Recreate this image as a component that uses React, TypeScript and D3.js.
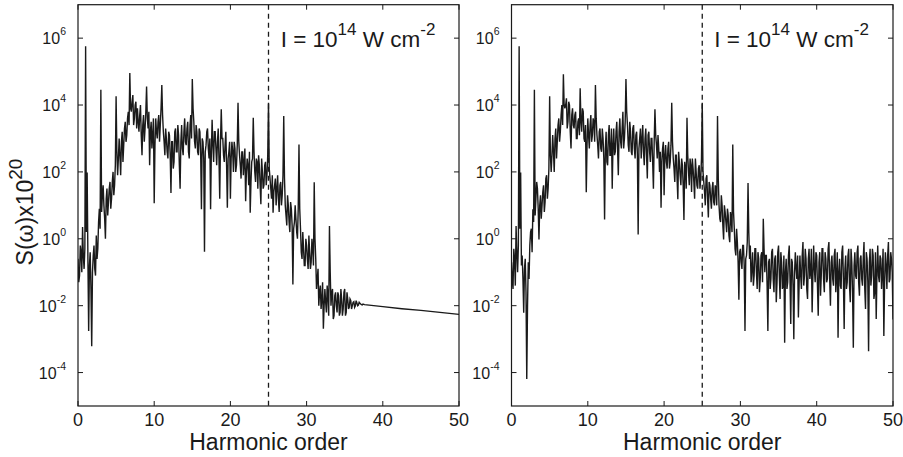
import React from 'react';
import * as d3 from 'd3';

// ---- data: log10 of S(ω)x10^20 ----
// main samples at h = 0, 0.2, 0.4, ... ; mid samples at h = 0.1, 0.3, 0.5, ...
const HARMONIC_STEP = 0.2;
const MID_OFFSET = 0.1;
const xTicks = [0, 10, 20, 30, 40, 50];
const yTickExponents = [-4, -2, 0, 2, 4, 6];
const markerHarmonic = 25;
const xLabel = 'Harmonic order';

const leftSpectrumLog = [
  -0.6, -1.1, -0.4, 0.35, -0.9,
  5.76, 1.98, -2.76, -0.4, -3.21,
  -0.5, -0.9, 0.1, -0.3, 0.9,
  4.46, 1.3, 1.0, 0.0, 1.5,
  1.1, 1.7, 1.2, 2.0, 1.6,
  4.26, 1.9, 3.0, 1.9, 3.2,
  2.8, 3.5, 3.1, 3.8, 4.96,
  3.8, 4.3, 3.6, 4.1, 3.9,
  3.2, 4.0, 2.5, 3.7, 3.3,
  4.55, 3.3, 2.2, 3.5, 3.1,
  1.06, 3.6, 3.0, 3.7, 3.4,
  4.6, 3.2, 2.5, 3.0, 2.4,
  3.1, 1.37, 2.9, 2.3, 3.3,
  2.6, 3.1, 1.5, 3.4, 2.5,
  3.6, 2.8, 3.5, 2.4, 3.7,
  4.78, 3.5, 2.7, 3.2, 2.5,
  3.2, 0.88, 2.9, -0.39, 2.8,
  3.3, 2.4, 0.88, 3.56, 2.3,
  3.2, 2.2, 3.3, 1.2, 3.87,
  3.0, 2.3, 3.2, 0.93, 2.6,
  1.2, 2.9, 2.0, 2.7, 2.2,
  4.07, 2.5, 1.8, 2.6, 2.3,
  1.12, 2.4, 1.6, 0.78, 2.3,
  3.62, 2.0, 2.4, 1.5, 2.2,
  1.03, 2.0, 1.6, 2.3, 1.9,
  4.07, 1.8, 1.2, 0.78, 1.6,
  1.0, 1.9, 0.8, 1.7, 1.3,
  3.67, 1.0, 0.4, 1.0, 0.2,
  0.9, -1.37, 0.5, 0.6, 0.0,
  2.82, 0.3, -0.6, -0.3, -0.8,
  -0.2, -0.9, -0.4, -0.7, -0.3,
  1.69, -0.6, -1.2, -2.0, -1.4,
  -1.8, -2.69, -1.5, -2.2, -1.7,
  0.38, -2.0, -1.5, -2.3, -1.6,
  -2.2, -1.7, -2.2, -1.8, -2.1,
  -1.5, -2.2, -1.8, -2.05, -1.85,
  -2.0, -1.88, -2.0, -1.92, -1.98,
  -1.93, -1.97, -1.95,
];
const leftMidLog = [
  -1.3, -0.2, -1.0, -0.5, -0.3,
  0.2, -0.6, -0.8, -1.5, -1.0,
  -0.2, -1.1, -0.6, 0.5, 0.3,
  0.8, 1.6, 0.6, 1.2, 0.7,
  1.5, 0.9, 1.7, 1.3, 2.2,
  2.6, 2.4, 2.5, 2.9, 2.3,
  3.3, 2.9, 3.6, 3.4, 3.9,
  4.1, 3.4, 4.0, 3.3, 3.5,
  3.7, 3.1, 3.4, 2.9, 3.8,
  3.6, 3.8, 3.2, 2.7, 3.6,
  2.8, 3.2, 3.5, 2.9, 3.9,
  3.7, 2.9, 3.3, 2.6, 3.2,
  2.5, 2.9, 2.1, 3.2, 2.6,
  3.4, 2.2, 2.9, 2.7, 3.2,
  2.9, 3.3, 2.6, 3.4, 3.0,
  3.9, 2.9, 3.4, 2.6, 3.3,
  2.5, 3.0, 2.4, 2.6, 3.2,
  2.7, 3.0, 2.6, 2.8, 3.2,
  2.7, 2.9, 2.4, 2.9, 3.0,
  2.5, 2.8, 2.2, 2.4, 2.9,
  2.4, 2.6, 2.9, 2.0, 2.8,
  2.9, 2.2, 2.6, 1.9, 2.7,
  2.0, 2.2, 2.6, 1.7, 2.4,
  2.6, 1.7, 2.3, 2.5, 1.6,
  2.4, 1.5, 2.2, 1.6, 2.5,
  2.1, 1.5, 1.9, 1.4, 1.8,
  1.5, 1.2, 1.6, 1.0, 1.9,
  1.8, 0.7, 1.3, 0.5, 1.1,
  0.4, 0.3, 1.0, 0.2, 0.9,
  0.9, -0.4, 0.2, -0.8, 0.0,
  -0.6, 0.1, -0.9, 0.0, -0.8,
  0.0, -1.5, -0.9, -1.6, -2.1,
  -1.3, -2.0, -1.9, -1.4, -2.3,
  -1.0, -1.6, -2.4, -1.7, -2.0,
  -1.6, -2.3, -1.5, -2.3, -1.6,
  -2.3, -1.6, -2.1, -1.8, -2.1,
  -1.9, -2.05, -1.85, -2.0, -1.9,
  -1.95, -1.98,
];
const leftTailHarmonics = [37.6, 40, 42.5, 45, 47.5, 50];
const leftTailLog = [-1.97, -2.03, -2.09, -2.14, -2.2, -2.26];

const rightSpectrumLog = [
  -0.7, -1.5, -0.6, 0.38, -1.0,
  5.76, 1.98, -0.5, -2.21, -0.6,
  -4.19, -0.7, -0.2, 0.3, 0.88,
  4.46, 1.2, 1.5, -0.02, 1.3,
  1.0, 1.6, 1.1, 1.9, 1.5,
  4.26, 2.0, 3.1, 2.0, 3.3,
  2.9, 3.6, 3.2, 4.0, 4.92,
  3.9, 4.2, 3.5, 4.0, 2.7,
  3.9, 3.3, 3.8, 3.0, 3.6,
  4.5, 3.2, 3.8, 2.9, 1.39,
  3.6, 2.7, 3.7, 3.1, 3.5,
  4.6, 3.1, 2.4, 3.3, 2.6,
  3.0, 0.58, 3.2, 2.2, 3.4,
  2.5, 1.5, 3.3, 2.6, 3.5,
  1.9, 3.6, 2.7, 3.8, 3.0,
  4.78, 3.4, 2.6, 3.2, 2.5,
  3.4, 2.4, 3.2, 0.13, 3.0,
  2.4, 3.4, 2.2, 3.3, 1.8,
  3.2, 2.3, 3.0, 1.5, 3.87,
  2.8, 3.1, 2.0, 0.93, 2.7,
  1.3, 2.8, 2.1, 2.9, 2.3,
  4.07, 2.4, 1.7, 2.5, 1.18,
  2.3, 1.6, 2.2, 0.56, 2.1,
  3.62, 2.0, 2.4, 1.4, 2.1,
  1.2, 2.0, 1.5, 2.2, 1.8,
  4.07, 1.7, 1.0, 1.9, 0.64,
  1.6, 0.9, 1.7, 1.0, 1.5,
  3.67, 1.0, 0.5, 1.0, -0.02,
  0.8, 0.2, 0.7, -0.1, 0.6,
  2.82, 0.3, -0.5, -0.1, -1.82,
  -0.3, -0.9, -0.2, -2.76, -0.5,
  1.67, -0.6, -1.3, -0.4, -1.1,
  -0.3, -1.5, -0.6, -1.2, -0.4,
  0.6, -1.0, -0.5, -2.76, -0.6,
  -1.2, -0.3, -1.6, -0.5, -1.3,
  -0.2, -1.8, -0.7, -1.4, -3.11,
  -0.6, -1.3, -0.2, -2.55, -0.7,
  -3.0, -0.4, -1.2, -2.35, -0.5,
  -1.5, -0.1, -1.1, -0.6, -1.8,
  -0.3, -1.0, -2.2, -0.2, -1.3,
  -0.5, -2.3, -0.4, -1.1, -0.3,
  -1.6, -0.6, -1.2, -0.1, -2.0,
  -0.5, -1.4, -0.3, -1.1, -2.96,
  -0.6, -1.5, -0.2, -2.7, -0.5,
  -1.3, -0.3, -1.9, -0.7, -3.26,
  -0.4, -1.2, -0.2, -1.7, -0.5,
  -1.4, -0.1, -2.1, -0.6, -3.36,
  -0.3, -1.1, -0.5, -1.6, -2.4,
  -0.2, -1.3, -0.6, -1.0, -2.91,
  -0.4, -1.5, -0.1, -1.2, -0.6,
  -2.41,
];
const rightMidLog = [
  -1.2, -0.3, -1.4, -0.4, -0.2,
  0.3, -0.8, -1.2, -0.9, -1.6,
  -2.0, -1.2, 0.2, -0.4, 0.5,
  0.7, 1.7, 0.9, 1.0, 0.6,
  1.4, 0.8, 1.8, 1.2, 2.1,
  2.5, 2.5, 2.6, 3.0, 2.4,
  3.4, 2.9, 3.7, 3.4, 4.0,
  4.0, 3.3, 4.1, 3.2, 3.7,
  3.4, 3.7, 3.0, 3.5, 3.1,
  3.5, 3.9, 3.0, 3.4, 2.8,
  3.1, 3.4, 2.9, 3.6, 2.9,
  3.6, 2.8, 3.2, 2.7, 3.3,
  2.4, 2.7, 2.3, 3.1, 2.5,
  3.3, 2.8, 2.5, 3.2, 2.7,
  3.2, 2.9, 3.3, 2.7, 3.5,
  3.8, 2.8, 3.5, 2.6, 3.3,
  2.7, 3.1, 2.5, 2.7, 3.3,
  3.0, 2.6, 3.0, 2.5, 3.1,
  2.6, 3.0, 2.3, 2.9, 3.1,
  2.4, 2.7, 2.6, 2.3, 2.9,
  2.5, 2.3, 2.7, 2.1, 2.8,
  2.9, 2.1, 2.5, 1.8, 2.6,
  1.9, 2.4, 1.6, 2.3, 1.5,
  2.5, 1.6, 2.2, 2.4, 1.7,
  2.4, 1.6, 2.1, 1.5, 2.4,
  2.0, 1.4, 1.8, 1.2, 1.7,
  1.2, 1.5, 1.1, 1.6, 1.0,
  1.8, 0.6, 1.3, 0.4, 1.0,
  0.5, 0.9, 0.1, 0.8, 0.2,
  0.8, -0.3, 0.3, -0.7, -0.4,
  -0.7, -0.2, -0.8, -0.6, -0.1,
  0.2, -0.2, -0.9, -1.4, -0.3,
  -1.0, -0.4, -1.6, -0.5, -1.3,
  -0.3, -0.5, -1.4, -0.7, -1.5,
  -0.4, -1.2, -0.6, -1.9, -0.4,
  -1.1, -0.4, -1.5, -0.5, -1.0,
  -1.5, -0.5, -1.2, -0.6, -1.4,
  -1.0, -0.9, -0.5, -1.3, -1.1,
  -0.5, -1.4, -0.3, -1.5, -0.6,
  -1.2, -0.3, -1.1, -0.9, -0.4,
  -1.4, -0.7, -1.7, -0.3, -1.2,
  -0.4, -1.3, -0.3, -1.2, -0.7,
  -1.2, -0.5, -1.6, -0.4, -1.0,
  -1.4, -0.4, -1.2, -0.9, -1.5,
  -0.5, -1.4, -0.3, -1.6, -0.8,
  -1.1, -0.4, -1.3, -0.6, -1.2,
  -0.6, -1.5, -0.4, -1.3, -0.7,
  -1.4, -0.3, -1.8, -0.4, -1.0,
  -1.1, -0.5, -1.5, -0.3, -1.3,
  -0.8, -0.5, -1.3, -0.4, -1.0,
];

type Pt = { h: number; s: number };

function buildPoints(main: number[], mid: number[]): Pt[] {
  const pts: Pt[] = [
    ...main.map((v, i) => ({ h: +(i * HARMONIC_STEP).toFixed(2), s: Math.pow(10, v) })),
    ...mid.map((v, i) => ({ h: +(i * HARMONIC_STEP + MID_OFFSET).toFixed(2), s: Math.pow(10, v) })),
  ];
  return pts.sort((a, b) => a.h - b.h);
}

const leftPoints: Pt[] = [
  ...buildPoints(leftSpectrumLog, leftMidLog),
  ...leftTailHarmonics.map((h, i) => ({ h, s: Math.pow(10, leftTailLog[i]) })),
];
const rightPoints: Pt[] = buildPoints(rightSpectrumLog, rightMidLog);

const FONT = 'Liberation Sans, Arial, Helvetica, sans-serif';
const TOP = 4.7;
const BOTTOM = 406;
const TICK = 5;
const INK = '#1a1a1a';

function Panel({ x0, x1, points, id }: { x0: number; x1: number; points: Pt[]; id: string }) {
  const x = d3.scaleLinear().domain([0, 50]).range([x0, x1]);
  const y = d3.scaleLog().domain([1e-5, 1e7]).range([BOTTOM, TOP]);
  const line = d3
    .line<Pt>()
    .x((d) => x(d.h))
    .y((d) => y(d.s));
  const xm = x(markerHarmonic);
  return (
    <g>
      <defs>
        <clipPath id={id}>
          <rect x={x0} y={TOP} width={x1 - x0} height={BOTTOM - TOP} />
        </clipPath>
      </defs>
      <path d={line(points) || ''} fill="none" stroke={INK} strokeWidth={1.4} clipPath={`url(#${id})`} />
      <line x1={xm} x2={xm} y1={TOP} y2={BOTTOM} stroke={INK} strokeWidth={1.3} strokeDasharray="5,4" />
      <rect x={x0} y={TOP} width={x1 - x0} height={BOTTOM - TOP} fill="none" stroke={INK} strokeWidth={1.2} />
      {xTicks.map((t) => (
        <g key={'x' + t}>
          <line x1={x(t)} x2={x(t)} y1={BOTTOM} y2={BOTTOM - TICK} stroke={INK} />
          <line x1={x(t)} x2={x(t)} y1={TOP} y2={TOP + TICK} stroke={INK} />
          <text x={x(t)} y={425.5} textAnchor="middle" fontFamily={FONT} fontSize={18} fill={INK}>
            {t}
          </text>
        </g>
      ))}
      {yTickExponents.map((e) => {
        const yy = y(Math.pow(10, e));
        return (
          <g key={'y' + e}>
            <line x1={x0} x2={x0 + TICK} y1={yy} y2={yy} stroke={INK} />
            <line x1={x1} x2={x1 - TICK} y1={yy} y2={yy} stroke={INK} />
            <text x={x0 - 12} y={yy + 6} textAnchor="end" fontFamily={FONT} fontSize={16} fill={INK}>
              <tspan>10</tspan>
              <tspan dy={-9} fontSize={10.5}>{e}</tspan>
            </text>
          </g>
        );
      })}
      <text x={x0 + 202.7} y={46.7} fontFamily={FONT} fontSize={22.5} fill={INK}>
        <tspan>I = 10</tspan>
        <tspan dy={-12} fontSize={17}>14</tspan>
        <tspan dy={12}> W cm</tspan>
        <tspan dy={-12} fontSize={17}>-2</tspan>
      </text>
      <text x={(x0 + x1) / 2} y={450} textAnchor="middle" fontFamily={FONT} fontSize={23} fill={INK}>
        {xLabel}
      </text>
    </g>
  );
}

export default function App() {
  return (
    <svg
      width={903}
      height={457}
      viewBox="0 0 903 457"
      style={{ position: 'absolute', left: 0, top: 0, background: '#fff' }}
    >
      <rect x={0} y={0} width={903} height={457} fill="#fff" />
      <Panel x0={78} x1={459} points={leftPoints} id="clipL" />
      <Panel x0={511.5} x1={893} points={rightPoints} id="clipR" />
      <text transform="translate(33,212) rotate(-90)" textAnchor="middle" fontFamily={FONT} fontSize={23} fill={INK}>
        <tspan>S(ω)x10</tspan>
        <tspan dy={-11} fontSize={19}>20</tspan>
      </text>
    </svg>
  );
}
